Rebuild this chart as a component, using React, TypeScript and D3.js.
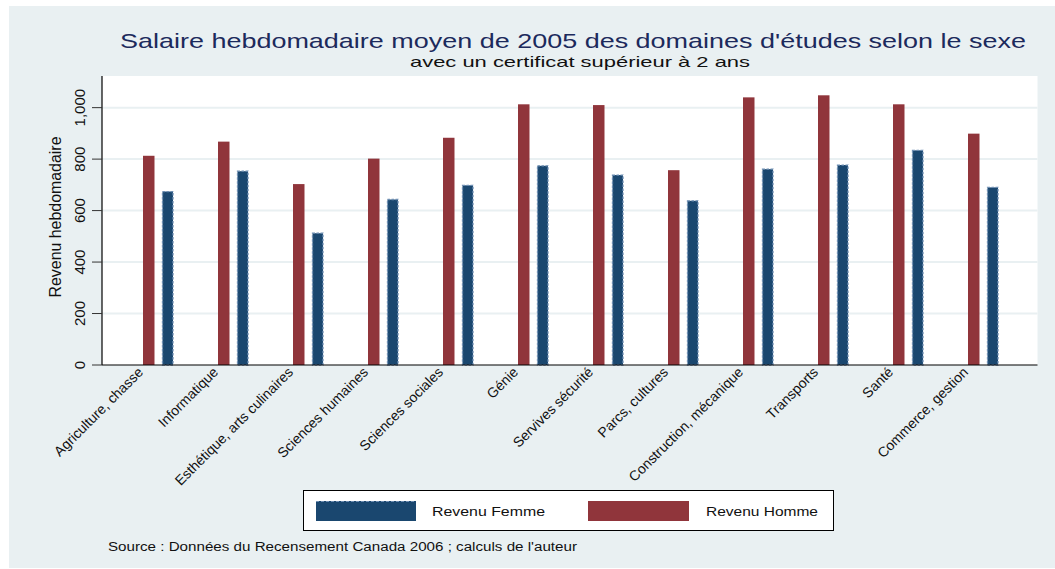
import React from "react";
import * as d3 from "d3";

const categories = [
  "Agriculture, chasse",
  "Informatique",
  "Esthétique, arts culinaires",
  "Sciences humaines",
  "Sciences sociales",
  "Génie",
  "Servives sécurité",
  "Parcs, cultures",
  "Construction, mécanique",
  "Transports",
  "Santé",
  "Commerce, gestion",
];
const revenuHomme = [813, 868, 703, 802, 883, 1013, 1010, 757, 1040, 1048, 1013, 899];
const revenuFemme = [676, 755, 514, 645, 700, 776, 740, 640, 763, 779, 836, 692];
const yTicks = [0, 200, 400, 600, 800, 1000];
const series = ["Homme", "Femme"];

const W = 1055;
const H = 569;
const plot = { left: 102, right: 1037.5, top: 76, bottom: 365 };
const BG = "#e9f0f2";
const RED = "#90353b";
const BLUE = "#1a476f";
const FONT = "'Liberation Sans', Arial, Helvetica, sans-serif";

export default function App() {
  const y = d3.scaleLinear().domain([0, 1123]).range([plot.bottom, plot.top]);
  const x = d3
    .scaleBand<string>()
    .domain(categories)
    .range([plot.left, plot.left + 900])
    .padding(0);
  const xs = d3
    .scaleBand<string>()
    .domain(series)
    .range([41, 71.5])
    .paddingInner(0.395)
    .paddingOuter(0);
  const fmt = d3.format(",");

  return (
    <svg
      width={W}
      height={H}
      style={{ position: "absolute", left: 0, top: 0, display: "block" }}
      fontFamily={FONT}
    >
      <rect x={0} y={0} width={W} height={H} fill="#ffffff" />
      <rect x={9} y={6} width={W - 9} height={562} fill={BG} />
      {/* plot region */}
      <rect
        x={plot.left}
        y={plot.top}
        width={plot.right - plot.left}
        height={plot.bottom - plot.top}
        fill="#ffffff"
      />
      {/* gridlines */}
      {yTicks
        .filter((t) => t > 0)
        .map((t) => (
          <line
            key={"g" + t}
            x1={plot.left}
            x2={plot.right}
            y1={y(t)}
            y2={y(t)}
            stroke={BG}
            strokeWidth={2}
          />
        ))}
      {/* bars */}
      {categories.map((c, i) => (
        <g key={c} transform={`translate(${x(c)},0)`}>
          <rect
            x={xs("Homme")}
            y={y(revenuHomme[i])}
            width={xs.bandwidth()}
            height={y(0) - y(revenuHomme[i])}
            fill={RED}
          />
          <rect
            x={(xs("Femme") as number) + 0.5}
            y={y(revenuFemme[i]) + 0.5}
            width={xs.bandwidth() - 1}
            height={y(0) - y(revenuFemme[i]) - 0.5}
            fill={BLUE}
            stroke="#6f8fb3"
            strokeWidth={1.3}
            strokeDasharray="2.5 1.5"
          />
        </g>
      ))}
      {/* axes */}
      <line x1={plot.left} x2={plot.left} y1={plot.top} y2={plot.bottom} stroke="#000" strokeWidth={1.2} />
      <line x1={plot.left} x2={plot.right} y1={plot.bottom} y2={plot.bottom} stroke="#000" strokeWidth={1.2} />
      {yTicks.map((t) => (
        <g key={"t" + t}>
          <line x1={92} x2={plot.left} y1={y(t)} y2={y(t)} stroke="#333" strokeWidth={1} />
          <text
            transform={`translate(85,${y(t)}) rotate(-90)`}
            textAnchor="middle"
            fontSize={15}
            fill="#111"
          >
            {fmt(t)}
          </text>
        </g>
      ))}
      <text
        transform={`translate(61,217) rotate(-90)`}
        textAnchor="middle"
        fontSize={16}
        fill="#111"
        textLength={161}
        lengthAdjust="spacingAndGlyphs"
      >
        Revenu hebdomadaire
      </text>
      {/* x labels */}
      {categories.map((c) => (
        <text
          key={"l" + c}
          transform={`translate(${(x(c) as number) + 42},373) rotate(-45)`}
          textAnchor="end"
          fontSize={14}
          fill="#111"
        >
          {c}
        </text>
      ))}
      {/* titles */}
      <text
        x={573}
        y={48}
        textAnchor="middle"
        fontSize={21}
        fill="#1c2a5c"
        textLength={906}
        lengthAdjust="spacingAndGlyphs"
      >
        Salaire hebdomadaire moyen de 2005 des domaines d'études selon le sexe
      </text>
      <text
        x={580}
        y={67}
        textAnchor="middle"
        fontSize={15}
        fill="#111"
        textLength={340}
        lengthAdjust="spacingAndGlyphs"
      >
        avec un certificat supérieur à 2 ans
      </text>
      {/* legend */}
      <rect x={303.5} y={490.5} width={530} height={40} fill="#ffffff" stroke="#000" strokeWidth={1} />
      <rect x={316} y={501} width={100} height={20} fill={BLUE} />
      <line x1={316} x2={416} y1={501.5} y2={501.5} stroke="#6f8fb3" strokeWidth={1} strokeDasharray="3 2" />
      <text x={432} y={516} fontSize={13} fill="#111" textLength={113} lengthAdjust="spacingAndGlyphs">
        Revenu Femme
      </text>
      <rect x={588} y={501} width={101} height={20} fill={RED} />
      <text x={706} y={516} fontSize={13} fill="#111" textLength={112} lengthAdjust="spacingAndGlyphs">
        Revenu Homme
      </text>
      <text x={108} y={551} fontSize={12.5} fill="#111" textLength={469} lengthAdjust="spacingAndGlyphs">
        Source : Données du Recensement Canada 2006 ; calculs de l'auteur
      </text>
    </svg>
  );
}
